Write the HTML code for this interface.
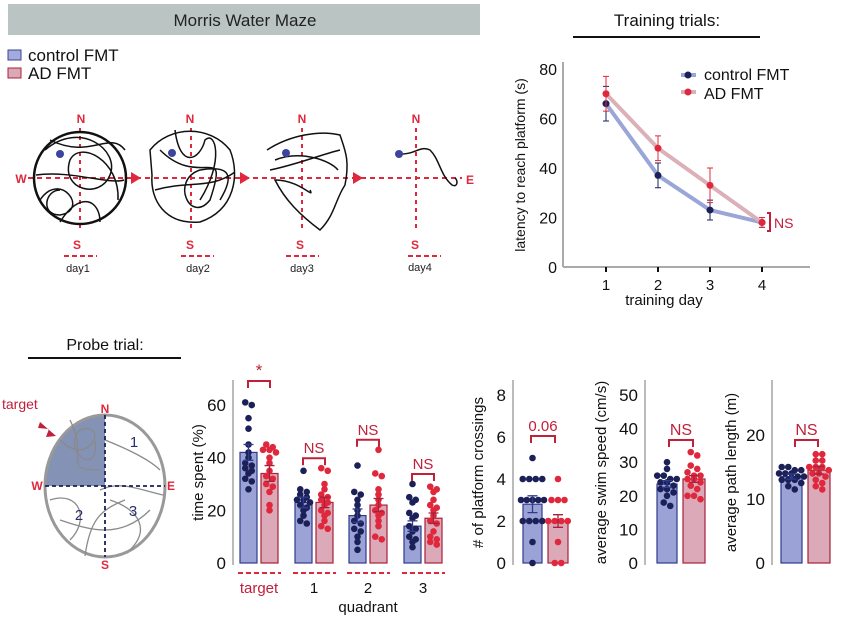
<!DOCTYPE html>
<html><head><meta charset="utf-8"><style>
body{margin:0;background:#fff;}
svg{display:block;font-family:"Liberation Sans",Arial,sans-serif;}
</style></head><body>
<svg id="fig" width="843" height="624" viewBox="0 0 843 624" xmlns="http://www.w3.org/2000/svg">
<!-- header -->
<rect x="8" y="4" width="472" height="31" fill="#b9c4c3"/>
<text x="245" y="26" font-size="17" text-anchor="middle" fill="#222">Morris Water Maze</text>
<g>
<rect x="8" y="50" width="13" height="10" fill="#a3abdc" stroke="#3a4596"/>
<text x="28" y="61" font-size="17" fill="#111">control FMT</text>
<rect x="8" y="68" width="13" height="10" fill="#dba9b6" stroke="#a8203a"/>
<text x="28" y="79" font-size="17" fill="#111">AD FMT</text>
</g>
<!-- mazes -->
<g fill="none">
<line x1="28" y1="178" x2="462" y2="178" stroke="#e0283c" stroke-width="2" stroke-dasharray="5,4"/>
<line x1="80" y1="128" x2="80" y2="230" stroke="#e0283c" stroke-width="2" stroke-dasharray="4,4"/>
<line x1="191" y1="128" x2="191" y2="230" stroke="#e0283c" stroke-width="2" stroke-dasharray="4,4"/>
<line x1="302" y1="128" x2="302" y2="230" stroke="#e0283c" stroke-width="2" stroke-dasharray="4,4"/>
<line x1="416" y1="128" x2="416" y2="230" stroke="#e0283c" stroke-width="2" stroke-dasharray="4,4"/>
<circle cx="80" cy="178" r="46" stroke="#111" stroke-width="2.5"/>
<path d="M45,150 C80,120 120,150 110,175 C100,200 60,190 70,160 C80,140 120,160 118,200 M40,200 C60,170 90,210 60,215 C40,215 45,190 60,190 M50,140 C90,160 110,130 125,150 M36,175 C70,170 110,185 124,180 M60,222 C80,190 100,200 100,222" stroke="#111" stroke-width="1.5"/>
<path d="M150,150 C170,125 210,125 230,150 C240,175 235,210 200,222 C165,225 150,200 152,175 Z M160,150 C200,190 230,140 210,200 C190,225 170,180 200,170 C230,165 235,175 220,200 M175,130 C180,170 200,160 205,140 C215,130 225,160 200,200 M155,190 C190,180 210,190 235,172" stroke="#111" stroke-width="1.5"/>
<path d="M267,150 C290,135 320,130 340,135 C345,150 350,160 345,185 C335,200 335,215 320,230 C300,215 285,200 275,180 C300,180 315,200 310,190 M270,170 C295,165 320,155 340,150 M275,160 C300,150 330,160 338,170" stroke="#111" stroke-width="1.5"/>
<path d="M399,154 C415,155 420,145 430,150 C440,160 440,175 452,185 C458,188 458,180 455,178" stroke="#111" stroke-width="1.5"/>
<circle cx="60" cy="154" r="4" fill="#3c44a0"/><circle cx="172" cy="153" r="4" fill="#3c44a0"/><circle cx="286" cy="153" r="4" fill="#3c44a0"/><circle cx="399" cy="154" r="4" fill="#3c44a0"/>
<path d="M131,172 L141,178 L131,184 Z M240,172 L250,178 L240,184 Z M353,172 L363,178 L353,184 Z" fill="#e0283c"/>
<g font-size="12" font-weight="bold" fill="#e0283c" text-anchor="middle">
<text x="81" y="123">N</text><text x="77" y="249">S</text><text x="190" y="123">N</text><text x="190" y="249">S</text>
<text x="302" y="123">N</text><text x="300" y="249">S</text><text x="416" y="123">N</text><text x="415" y="249">S</text>
<text x="21" y="183">W</text><text x="470" y="184">E</text></g>
<g stroke="#e0283c" stroke-width="2" stroke-dasharray="5,3"><line x1="64" y1="256" x2="97" y2="256"/><line x1="181" y1="256" x2="214" y2="256"/><line x1="286" y1="256" x2="319" y2="256"/><line x1="408" y1="256" x2="441" y2="256"/></g>
<g font-size="11" fill="#222" text-anchor="middle" stroke="none"><text x="78" y="272">day1</text><text x="198" y="272">day2</text><text x="302" y="272">day3</text><text x="420" y="271">day4</text></g>
</g>
<!-- training chart -->
<g id="train">
<text x="667" y="26" font-size="17" text-anchor="middle" fill="#111">Training trials:</text>
<line x1="573" y1="37" x2="760" y2="37" stroke="#111" stroke-width="2"/>
<line x1="563" y1="62" x2="563" y2="267" stroke="#aaa" stroke-width="2"/>
<line x1="563" y1="267" x2="810" y2="267" stroke="#aaa" stroke-width="2"/>
<text transform="translate(525,165) rotate(-90)" font-size="14" text-anchor="middle" fill="#111">latency to reach platform (s)</text>
<text x="664" y="305" font-size="15" text-anchor="middle" fill="#111">training day</text>
<g>
<line x1="681" y1="75" x2="696" y2="75" stroke="#9aa6d8" stroke-width="4"/><circle cx="688" cy="75" r="3.5" fill="#1b2158"/>
<text x="704" y="80" font-size="16" fill="#111">control FMT</text>
<line x1="681" y1="92" x2="696" y2="92" stroke="#dcb0b8" stroke-width="4"/><circle cx="688" cy="92" r="3.5" fill="#e0283c"/>
<text x="704" y="99" font-size="16" fill="#111">AD FMT</text></g>
<path d="M767,213 h3 v18 h-3" stroke="#c0203a" stroke-width="2" fill="none"/>
<text x="774" y="228" font-size="14" fill="#c0203a">NS</text>
</g>
<!-- probe -->
<g>
<text x="105" y="350" font-size="16" text-anchor="middle" fill="#111">Probe trial:</text>
<line x1="28" y1="358" x2="181" y2="358" stroke="#111" stroke-width="2"/>
<path d="M105,486 L105,415 A60,71 0 0 0 45,486 Z" fill="#6d7fa8" opacity="0.85"/>
<ellipse cx="105" cy="486" rx="60" ry="71" fill="none" stroke="#999" stroke-width="3"/>
<path d="M60,440 C90,470 110,420 80,430 C60,450 100,480 95,440 M70,420 C90,460 60,470 100,470 M50,500 C80,490 90,520 70,540 M110,500 C140,510 150,530 130,550 M105,440 C130,450 150,460 160,470 M60,520 C90,530 120,540 150,510 M100,490 C120,480 140,490 163,495 M85,556 C90,520 100,510 125,500" stroke="#8a8a8a" stroke-width="1.3" fill="none"/>
<line x1="105" y1="415" x2="105" y2="557" stroke="#1b2158" stroke-width="1.8" stroke-dasharray="4,3"/>
<line x1="45" y1="486" x2="165" y2="486" stroke="#1b2158" stroke-width="1.8" stroke-dasharray="4,3"/>
<g font-size="15" fill="#2a3070" text-anchor="middle"><text x="134" y="447">1</text><text x="79" y="520">2</text><text x="133" y="516">3</text></g>
<g font-size="12" font-weight="bold" fill="#e0283c" text-anchor="middle"><text x="105" y="413">N</text><text x="105" y="569">S</text><text x="37" y="490">W</text><text x="171" y="490">E</text></g>
<text x="2" y="409" font-size="14" fill="#c0203a">target</text>
<path d="M40,422 L56,436 L46,437 L49,429 L38,428 Z" fill="#c0203a"/>
</g>
<g id="bars"></g>
</svg>
<script>
// ---- training data ----
const days=[1,2,3,4];
const ctrlLatency=[66,37,23,18];
const ctrlLatErr=[7,5,4,2];
const adLatency=[70,48,33,18];
const adLatErr=[7,5,7,2];
const latTicks=[0,20,40,60,80];
// ---- probe data ----
const quadrants=["target","1","2","3"];
const timeCtrlMean=[42,23,18,14];
const timeAdMean=[34,23,22,17];
const timeCtrlErr=[3,2,2.5,2];
const timeAdErr=[3,2,2.5,2];
const timeCtrlPts=[[61,60,55,51,45,42,40,38,37,36,35,34,32,31,28],[35,28,27,26,25,24,24,23,22,21,20,18,16,15],[37,27,26,24,22,20,18,16,15,13,12,10,8,5],[30,25,24,23,19,18,17,14,13,12,10,9,8,6]];
const timeAdPts=[[45,44,43,43,42,40,38,35,33,32,30,29,27,22,20],[36,35,30,28,26,25,24,23,22,20,19,18,16,14,13],[43,34,33,28,26,24,22,20,19,18,16,14,10,9],[29,28,27,24,22,21,20,18,16,15,12,10,9,8,7]];
const timeSig=["*","NS","NS","NS"];
const timeTicks=[0,20,40,60];
const crossMean=[2.8,2.0];
const crossErr=[0.4,0.3];
const crossCtrlPts=[5,4,4,4,4,3,3,3,3,3,2,2,2,2,1,0];
const crossAdPts=[4,3,3,3,2,2,2,2,1,0,0];
const crossTicks=[0,2,4,6,8];
const speedMean=[23.5,25];
const speedErr=[1,1];
const speedCtrlPts=[30,28,26,26,25,25,24,24,23,22,22,21,20,18,17];
const speedAdPts=[33,32,29,28,27,26,26,25,25,24,23,22,20,20,19];
const speedTicks=[0,10,20,30,40,50];
const pathMean=[13.5,14.5];
const pathErr=[0.4,0.6];
const pathCtrlPts=[15,15,14.5,14.5,14,14,14,13.5,13.5,13,13,13,12.5,12,11.5];
const pathAdPts=[17,17,16,16,15,15,15,14.5,14,14,13.5,13,12.5,12,11.5];
const pathTicks=[0,10,20];

const NS="http://www.w3.org/2000/svg";
function mk(parent,tag,attrs,txt){const e=document.createElementNS(NS,tag);for(const k in attrs)e.setAttribute(k,attrs[k]);if(txt!==undefined)e.textContent=txt;parent.appendChild(e);return e;}
const C_FILL="#9ba3d6",C_STROKE="#2f3b8c",C_DOT="#1b2158",A_FILL="#dba9b8",A_STROKE="#a8203a",A_DOT="#e0283c";

// training chart
const train=document.getElementById('train');
const tx=d=>606+(d-1)*52, ty=v=>267-v*2.475;
latTicks.forEach(t=>{const e=mk(train,'text',{x:557,y:ty(t)+6,'font-size':16,'text-anchor':'end',fill:'#111'},t);

});
days.forEach(d=>{mk(train,'line',{x1:tx(d),y1:267,x2:tx(d),y2:272,stroke:'#111','stroke-width':2});
const e=mk(train,'text',{x:tx(d),y:290,'font-size':15,'text-anchor':'middle',fill:'#111'},d);

});
function series(vals,errs,lineC,dotC,name){
 const p=mk(train,'polyline',{points:vals.map((v,i)=>tx(days[i])+','+ty(v)).join(' '),fill:'none',stroke:lineC,'stroke-width':4,'stroke-linejoin':'round'});
 
 
 vals.forEach((v,i)=>{const x=tx(days[i]);
  mk(train,'path',{d:`M${x-3},${ty(v+errs[i])}h6M${x},${ty(v+errs[i])}V${ty(v-errs[i])}M${x-3},${ty(v-errs[i])}h6`,stroke:dotC,'stroke-width':1,fill:'none'});
  const c=mk(train,'circle',{cx:x,cy:ty(v),r:3.5,fill:dotC});
  
  });
}
series(ctrlLatency,ctrlLatErr,'#9aa6d8',C_DOT,'control-latency');
series(adLatency,adLatErr,'#dcb0b8',A_DOT,'ad-latency');

// bar charts
const bars=document.getElementById('bars');
function swarm(pts,yf,w){
 // group points with close pixel y, spread horizontally
 const ys=pts.map(yf);const off=new Array(pts.length).fill(0);
 const order=ys.map((y,i)=>i).sort((a,b)=>ys[a]-ys[b]);
 let grp=[];
 const flush=()=>{const n=grp.length;const sp=Math.min(6.5,(w-2)/Math.max(1,n-1));grp.forEach((idx,k)=>off[idx]=(k-(n-1)/2)*(n>1?sp:0));grp=[];};
 order.forEach(i=>{if(grp.length&&ys[i]-ys[grp[0]]>5)flush();grp.push(i);});
 flush();
 return off;
}
function bar(g,x,w,base,yf,mean,err,pts,fill,stroke,dot,name){
 const r=mk(g,'rect',{x:x,y:yf(mean),width:w,height:base-yf(mean),fill:fill,stroke:stroke,'stroke-width':1.2});
 
 
 const cx=x+w/2;
 const off=swarm(pts,yf,w+6);
 pts.forEach((v,i)=>{const c=mk(g,'circle',{cx:cx+off[i],cy:yf(v),r:3.3,fill:dot});
 
 });
 mk(g,'path',{d:`M${cx-5},${yf(mean+err)}h10M${cx},${yf(mean+err)}V${yf(mean-err)}M${cx-5},${yf(mean-err)}h10`,stroke:stroke,'stroke-width':1.3,fill:'none'});
}
function axis(g,ax,top,base,yf,ticks,label,lx,name){
 mk(g,'line',{x1:ax,y1:top,x2:ax,y2:base,stroke:'#bbb','stroke-width':2});
 ticks.forEach(t=>{const e=mk(g,'text',{x:ax-7,y:yf(t)+6,'font-size':17,'text-anchor':'end',fill:'#111'},t);
 
 });
 const l=mk(g,'text',{transform:`translate(${lx},${(top+base)/2}) rotate(-90)`,'font-size':15,'text-anchor':'middle',fill:'#111'},label);
 
 
}
function bracket(g,x1,x2,y,txt,fs){
 mk(g,'path',{d:`M${x1},${y+7}V${y}H${x2}V${y+7}`,stroke:'#c0203a','stroke-width':2,fill:'none'});
 const t=mk(g,'text',{x:(x1+x2)/2,y:y-5,'font-size':fs||15,'text-anchor':'middle',fill:'#c0203a'},txt);
 
 
}
const base=563;
// time spent
const gt=mk(bars,'g',{});


const yT=v=>base-v*2.633;
axis(gt,233,380,565,yT,timeTicks,'time spent (%)',203,'time-spent');
const qx=[240,295,349,404];
quadrants.forEach((q,i)=>{
 bar(gt,qx[i],17,base,yT,timeCtrlMean[i],timeCtrlErr[i],timeCtrlPts[i],C_FILL,C_STROKE,C_DOT,'time-control-'+q);
 bar(gt,qx[i]+21,17,base,yT,timeAdMean[i],timeAdErr[i],timeAdPts[i],A_FILL,A_STROKE,A_DOT,'time-ad-'+q);
 const top=Math.max(...timeCtrlPts[i],...timeAdPts[i]);
 bracket(gt,qx[i]+8,qx[i]+30,i==0?381:yT(top)-10,timeSig[i],i==0?17:15);
 mk(gt,'line',{x1:qx[i]-2,y1:573,x2:qx[i]+41,y2:573,stroke:'#e0283c','stroke-width':2,'stroke-dasharray':'5,3'});
 const t=mk(gt,'text',{x:qx[i]+19,y:593,'font-size':15,'text-anchor':'middle',fill:i==0?'#c0203a':'#111'},q);
 
 
});
const qt=mk(gt,'text',{x:368,y:612,'font-size':15,'text-anchor':'middle',fill:'#111'},'quadrant');


// crossings
const gc=mk(bars,'g',{});


const yC=v=>base-v*21;
axis(gc,513,380,565,yC,crossTicks,'# of platform crossings',483,'crossings');
bar(gc,523,19,base,yC,crossMean[0],crossErr[0],crossCtrlPts,C_FILL,C_STROKE,C_DOT,'crossings-control');
bar(gc,548,20,base,yC,crossMean[1],crossErr[1],crossAdPts,A_FILL,A_STROKE,A_DOT,'crossings-ad');
bracket(gc,531,555,436,'0.06',15);
// speed
const gs=mk(bars,'g',{});


const yS=v=>base-v*3.36;
axis(gs,645,380,565,yS,speedTicks,'average swim speed (cm/s)',606,'speed');
bar(gs,657,20,base,yS,speedMean[0],speedErr[0],speedCtrlPts,C_FILL,C_STROKE,C_DOT,'speed-control');
bar(gs,683,22,base,yS,speedMean[1],speedErr[1],speedAdPts,A_FILL,A_STROKE,A_DOT,'speed-ad');
bracket(gs,669,693,440,'NS',16);
// path
const gp=mk(bars,'g',{});


const yP=v=>base-v*6.4;
axis(gp,772,380,565,yP,pathTicks,'average path length (m)',736,'path');
bar(gp,781,21,base,yP,pathMean[0],pathErr[0],pathCtrlPts,C_FILL,C_STROKE,C_DOT,'path-control');
bar(gp,808,22,base,yP,pathMean[1],pathErr[1],pathAdPts,A_FILL,A_STROKE,A_DOT,'path-ad');
bracket(gp,795,818,440,'NS',16);
</script>
</body></html>
